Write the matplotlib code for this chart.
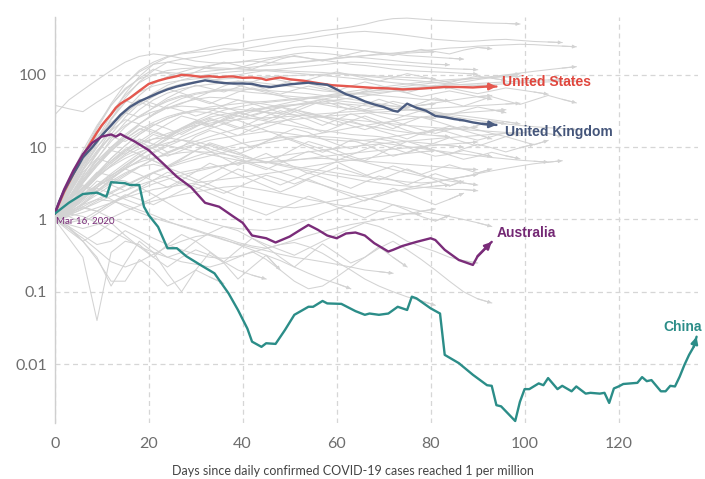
import numpy as np
import matplotlib
matplotlib.use("Agg")
import matplotlib.pyplot as plt
from matplotlib.ticker import FixedLocator, NullLocator

plt.rcParams['font.family'] = ['Lato', 'DejaVu Sans']

# ---------------- highlighted countries (7-day avg daily cases per million) ----------------
us_days = [0, 1, 2, 3, 4, 5, 6, 7, 8, 9, 10, 11, 12, 13, 14, 16, 18, 20, 22, 24, 26, 27, 29, 31,
           33, 35, 37, 38, 40, 42, 44, 45, 47, 48, 50, 53, 56, 59, 62, 65, 68, 71, 74, 77, 80,
           83, 86, 89, 92, 94]
us_vals = [1.2, 1.7, 2.4, 3.2, 4.3, 5.7, 7.6, 9.8, 12.5, 16, 20, 24, 28.5, 35, 40, 48, 60, 75,
           83, 90, 96, 100, 98, 94, 96, 93, 95, 95, 91, 92, 89, 85, 90, 92, 87, 83, 77, 72, 70,
           68, 66, 65, 63, 64, 66, 68, 68, 67, 69, 69]

uk_days = [0, 1, 2, 3, 4, 5, 6, 7, 8, 9, 10, 12, 14, 16, 18, 20, 22, 24, 26, 28, 30, 32, 34,
           36, 38, 40, 42, 44, 46, 48, 50, 52, 54, 56, 58, 60, 62, 64, 66, 68, 70, 72, 73, 75,
           77, 79, 81, 83, 85, 87, 89, 91, 94]
uk_vals = [1.2, 1.8, 2.5, 3.3, 4.3, 5.5, 7.2, 8.5, 10, 12, 14.5, 20, 28, 36, 43, 49, 56, 63,
           69, 74, 79, 84, 80, 77, 76, 76, 75, 70, 68, 71, 74, 76, 78, 75, 73, 63, 54, 49, 43,
           39, 36, 32, 31, 40, 35, 32, 27, 26, 24.5, 23.5, 22, 21, 20.3]

au_days = [0, 2, 4, 6, 8, 10, 12, 13, 14, 15, 17, 20, 23, 26, 29, 32, 35, 38, 40, 42, 45, 47,
           50, 52, 54, 56, 58, 60, 62, 64, 66, 68, 71, 72, 74, 77, 80, 81, 83, 86, 89, 90, 93]
au_vals = [1.2, 2.6, 4.8, 8, 11.5, 14, 15, 14, 15.2, 14, 12, 9.1, 6, 3.9, 2.8, 1.7, 1.5, 1.1,
           0.9, 0.6, 0.55, 0.48, 0.58, 0.7, 0.84, 0.72, 0.6, 0.55, 0.64, 0.66, 0.6, 0.47, 0.36,
           0.38, 0.43, 0.49, 0.55, 0.52, 0.38, 0.275, 0.235, 0.31, 0.49]

cn_days = [0, 3, 6, 9, 11, 12, 15, 16, 18, 19, 20, 22, 24, 26, 28, 31, 34, 37, 39, 41, 42, 44,
           45, 47, 49, 51, 54, 55, 57, 58, 61, 64, 66, 67, 69, 71, 73, 75, 76, 77, 80, 82, 83,
           86, 89, 92, 93, 94, 95, 98, 99, 100, 101, 103, 104, 105, 107, 108, 110, 111, 113,
           114, 116, 117, 118, 119, 120, 121, 124, 125, 126, 127, 129, 130, 131, 132, 133, 134,
           135, 136, 136.6]
cn_vals = [1.2, 1.7, 2.25, 2.35, 2.07, 3.28, 3.17, 3.0, 3.0, 1.5, 1.15, 0.79, 0.40, 0.40, 0.31,
           0.235, 0.18, 0.095, 0.056, 0.031, 0.0204, 0.0173, 0.0194, 0.019, 0.0296, 0.048,
           0.062, 0.062, 0.0746, 0.069, 0.068, 0.054, 0.048, 0.050, 0.048, 0.050, 0.062, 0.056,
           0.0855, 0.081, 0.059, 0.050, 0.0134, 0.0103, 0.0071, 0.0051, 0.0050, 0.0027, 0.0026,
           0.00163, 0.0030, 0.0045, 0.0045, 0.0054, 0.0051, 0.0064, 0.0045, 0.0050, 0.0042,
           0.0049, 0.0039, 0.0040, 0.0039, 0.0040, 0.0029, 0.0046, 0.0049, 0.0053, 0.0055,
           0.0066, 0.0058, 0.0060, 0.0042, 0.0042, 0.0050, 0.0049, 0.0067, 0.0097, 0.0134,
           0.0174, 0.0239]

# ---------------- other countries, sampled every GRAY_STEP days ----------------
GRAY_STEP = 3
gray_01 = [1.1, 2.6, 6, 13, 28, 55, 95, 140, 175, 200, 215, 240, 260, 275, 300, 320, 340, 355, 380, 410, 430, 460, 500, 560, 600, 610, 590, 570, 560, 545, 530, 520, 515, 505]
gray_02 = [1.0, 2.2, 5, 11, 24, 48, 80, 115, 150, 165, 175, 190, 210, 220, 240, 260, 285, 300, 320, 345, 370, 390, 400, 385, 370, 350, 330, 310, 300, 290, 295, 305, 310, 300, 290, 285, 280]
gray_03 = [1.2, 3.2, 8, 19, 40, 75, 115, 150, 180, 195, 205, 215, 230, 225, 215, 210, 220, 240, 250, 245, 235, 225, 215, 205, 195, 185, 180, 175, 170, 165]
gray_04 = [38, 34, 31, 42, 55, 75, 110, 140, 150, 140, 130, 122, 118, 125, 140, 160, 175, 180, 170, 160, 150, 140, 135, 128, 120, 115, 112, 110, 108, 105, 102]
gray_05 = [28, 45, 62, 85, 115, 150, 180, 195, 185, 170, 155, 148, 145, 150, 160, 170, 180, 195, 205, 200, 190, 180, 172, 165, 158, 150, 145, 140, 138]
gray_06 = [1.0, 1.9, 4, 8.5, 17, 32, 52, 75, 95, 110, 125, 135, 145, 150, 155, 150, 145, 148, 155, 162, 170, 178, 185, 195, 200, 210, 215, 225, 235, 240, 250, 255, 260, 265, 262, 255, 250, 245]
gray_07 = [1.1, 2.4, 5.5, 12, 25, 42, 58, 70, 78, 84, 88, 92, 95, 100, 108, 115, 120, 126, 132, 138, 145, 150, 148, 142, 138, 135, 130, 126, 122, 120, 118]
gray_08 = [1.0, 2.0, 4.2, 8, 15, 26, 40, 56, 72, 85, 95, 102, 108, 112, 115, 118, 115, 112, 110, 108, 104, 100, 96, 92, 88, 85, 82, 78, 75, 73, 72, 70]
gray_09 = [1.0, 1.7, 3.4, 6.8, 13, 22, 33, 45, 56, 64, 70, 74, 78, 82, 80, 76, 72, 68, 64, 60, 58, 56, 54, 52, 50, 48, 46, 45, 44]
gray_10 = [1.0, 1.8, 3.2, 5.5, 9, 14, 21, 29, 38, 47, 54, 58, 61, 60, 57, 55, 52, 50, 48, 46, 44, 42, 40, 38, 37, 36, 38, 41, 44, 47, 50, 52]
gray_11 = [1.0, 1.4, 2.4, 4.2, 7, 10.5, 15, 20, 25, 29, 33, 36, 38, 40, 42, 43, 45, 47, 49, 51, 53, 55, 58, 61, 63, 66, 68, 70, 72, 74, 76, 78, 80, 82, 84, 85, 86]
gray_12 = [1.1, 1.5, 2.4, 3.8, 5.6, 8, 10.5, 13, 15.5, 18, 20, 21.5, 23, 24, 25, 25.5, 26, 27, 28, 29, 30, 31, 32, 33, 34, 36, 38, 40]
gray_13 = [1.0, 2.2, 4.8, 9, 14, 20, 26, 31, 35, 37, 36, 33, 30, 27, 25, 23, 21, 19.5, 18, 17, 16, 15, 14.5, 14, 13, 12, 11.5, 11, 10.5, 10]
gray_14 = [0.9, 1.2, 1.7, 2.4, 3.2, 4.2, 5.4, 6.8, 8.2, 9.8, 11, 12.5, 13.5, 14.5, 15.5, 16.5, 16, 15, 14, 13, 12.5, 12, 12.5, 13, 14, 15, 16, 17, 18, 18.5, 19]
gray_15 = [1.0, 1.8, 2.8, 4, 5.4, 7, 8.6, 10, 11.5, 12.5, 12, 10.5, 9, 8, 7, 6.2, 5.6, 5.1, 4.7, 4.3, 4, 3.7, 3.4, 3.2, 3, 2.9, 2.8, 2.7, 2.6, 2.6, 2.5]
gray_16 = [1.0, 1.15, 1.4, 1.8, 2.3, 2.9, 3.6, 4.4, 5.2, 6, 6.8, 7.6, 8.5, 9.4, 10.4, 11.4, 12.4, 13.4, 14.5, 15.7, 17, 18.5, 20, 21.5, 23, 24.5, 26, 27.5, 29, 30, 31, 32, 33]
gray_17 = [1.0, 1.4, 2.1, 3.0, 4.1, 5.2, 6.2, 7.1, 7.8, 8.4, 8.7, 8.5, 8, 7.4, 6.8, 6.3, 5.8, 5.4, 5, 4.7, 4.4, 4.1, 3.9, 3.7, 3.5, 3.3, 3.2, 3.3, 3.6, 3.9, 4.3, 4.7, 5.1, 5.5, 5.9, 6.2, 6.5]
gray_18 = [1.0, 1.1, 1.25, 1.45, 1.7, 2.0, 2.3, 2.6, 2.8, 3.0, 3.2, 3.4, 3.6, 3.8, 4.0, 4.3, 4.6, 5.0, 5.4, 5.8, 6.2, 6.6, 7.0, 7.4, 7.8, 8.2, 8.6, 9]
gray_19 = [1.0, 0.85, 0.75, 0.85, 1.05, 1.3, 1.55, 1.8, 2.0, 2.2, 2.4, 2.6, 2.8, 2.9, 2.7, 2.5, 2.3, 2.1, 1.9, 1.75, 1.6, 1.5, 1.4, 1.3, 1.25, 1.2, 1.2]
gray_20 = [1.0, 1.3, 1.6, 1.9, 1.8, 1.6, 1.35, 1.15, 0.95, 0.8, 0.7, 0.6, 0.52, 0.46, 0.41, 0.37, 0.33, 0.3, 0.28, 0.26, 0.24, 0.22, 0.2, 0.19, 0.18]
gray_21 = [1.0, 0.75, 0.55, 0.38, 0.26, 0.22, 0.26, 0.33, 0.42, 0.5, 0.58, 0.62, 0.56, 0.48, 0.43, 0.4, 0.45, 0.52, 0.6, 0.68, 0.76, 0.85, 0.92, 1.0, 1.1, 1.2, 1.3, 1.4]
gray_22 = [1.0, 0.55, 0.3, 0.04, 0.35, 0.5, 0.45, 0.3, 0.22, 0.3, 0.38, 0.32, 0.26, 0.2, 0.17, 0.15]
gray_23 = [1.0, 0.75, 0.5, 0.28, 0.14, 0.14, 0.28, 0.2, 0.12, 0.15, 0.2, 0.16, 0.13]
gray_24 = [1.0, 1.4, 2.0, 2.8, 3.8, 5, 6.6, 8.6, 11, 14, 17, 20, 23.5, 27, 31, 35, 39, 43, 47, 51, 55, 59, 63, 67, 71, 75, 79, 83, 86, 88, 90, 92, 94, 95]
gray_25 = [1.1, 2.3, 5, 10, 18, 29, 42, 55, 66, 75, 81, 85, 88, 90, 92, 94, 96, 98, 100, 102, 104, 102, 99, 96, 94, 92, 90, 88]
gray_26 = [1.0, 2.8, 7.5, 18, 38, 65, 88, 102, 108, 104, 96, 88, 80, 72, 64, 57, 51, 46, 42, 39, 36, 34, 32, 30, 28.5, 27, 26, 25]
gray_27 = [1.0, 1.7, 3.2, 6, 10, 15, 21, 28, 35, 41, 46, 49, 48, 45, 42, 39, 36, 33, 30, 27, 24.5, 22, 20, 18.5, 17, 16, 15, 14.5, 14]
gray_28 = [1.0, 1.15, 1.6, 2.4, 3.6, 5.2, 7.4, 10, 13.5, 18, 22, 26, 28.5, 30.5, 32, 34, 36, 38, 40, 42, 45, 48, 51, 55, 59, 63, 67, 71, 75, 80, 86, 92, 98, 104]
gray_29 = [1.0, 1.5, 2.4, 3.8, 5.6, 7.6, 9.5, 10.8, 10.5, 9.6, 8.7, 7.9, 7.2, 6.6, 6.2, 6.1, 6.3, 6.6, 7.0, 7.4, 7.8, 8.2, 8.6, 9, 9.4, 9.8, 10.2, 10.6, 11, 11.4, 11.8]
gray_30 = [1.0, 1.3, 1.8, 2.5, 3.4, 4.4, 5.4, 5.8, 5.2, 4.4, 3.6, 3.0, 2.5, 2.1, 1.85, 1.65, 1.5, 1.45, 1.55, 1.7, 1.85, 2.0, 2.15, 2.3, 2.45, 2.6, 2.75, 2.9, 3.0]
gray_31 = [1.0, 0.9, 1.0, 1.3, 1.7, 2.1, 2.6, 3.1, 3.6, 4.1, 4.6, 5.1, 5.6, 6.1, 6.6, 7.1, 7.6, 8.1, 8.6, 9.1, 9.6, 10.1, 10.6, 11.1, 11.6, 12.1, 12.6, 13.1, 13.6, 14, 14.5, 15, 15.5, 16]
gray_32 = [1.0, 1.25, 1.45, 1.3, 1.05, 0.85, 0.68, 0.55, 0.45, 0.38, 0.33, 0.3, 0.29, 0.31, 0.35, 0.4, 0.45, 0.48, 0.42, 0.34, 0.26, 0.2, 0.15, 0.12, 0.1, 0.085, 0.075, 0.065]
gray_33 = [1.0, 1.8, 2.8, 2.4, 1.9, 1.5, 1.25, 1.05, 0.92, 0.82, 0.72, 0.62, 0.53, 0.45, 0.38, 0.32, 0.27, 0.22, 0.18, 0.15, 0.13, 0.11]
gray_34 = [1.0, 1.4, 2.0, 2.8, 3.8, 5.0, 6.5, 8.3, 10.3, 12.5, 15, 18, 21, 24.5, 28, 31.5, 35, 38.5, 42, 46, 50, 54, 58, 62, 66, 70, 74, 78, 82, 86, 90, 95, 100, 106, 112, 118, 124, 130]
gray_35 = [1.0, 1.8, 3.4, 5.8, 9, 13, 17.5, 22, 26.5, 30, 32.5, 34, 34.5, 33.5, 32, 30.5, 29, 28, 27, 26, 25, 24, 23, 22, 21, 20, 19.3, 18.6, 18, 17.5, 17, 16.5, 16, 15.5]
gray_36 = [1.0, 1.15, 1.4, 1.7, 2.1, 2.5, 3.0, 3.5, 4.0, 4.5, 4.9, 5.3, 5.6, 5.9, 6.1, 6.3, 6.5, 6.7, 6.9, 7.0, 6.8, 6.6, 6.4, 6.2, 6.0, 5.8, 5.6, 5.4, 5.2, 5.0, 4.9]
gray_37 = [1.0, 1.25, 1.65, 2.2, 3.0, 4.0, 5.3, 6.8, 8.5, 10.3, 12.1, 14, 16, 18, 19.8, 21.5, 23, 24.2, 25.4, 26.5, 27.5, 28.5, 29.5, 30.5, 31.5, 32.5, 33.5, 34.5, 35.5, 36.5, 37.5, 38.5, 39.5, 40.5]
gray_38 = [1.0, 1.6, 2.7, 4.4, 7, 10.5, 15, 20, 25, 29, 31, 30, 27, 23.5, 20, 17, 14.5, 12.5, 10.8, 9.3, 8, 7, 6.2, 5.5, 4.9, 4.4, 4.0, 3.7, 3.4, 3.2, 3.0]
gray_39 = [1.0, 2.4, 5.6, 12, 24, 42, 62, 80, 93, 102, 108, 113, 118, 123, 128, 134, 140, 146, 152, 160, 168, 176, 184, 190, 195, 200, 205, 210]
gray_40 = [1.0, 1.35, 2.0, 3.0, 4.3, 6, 8.2, 11, 14.5, 18.5, 23, 28, 32.5, 36, 39, 41.5, 43.5, 45.5, 47.5, 49.5, 51.5, 53.5, 55.5, 57.5, 59.5, 61.5, 63.5, 65.5, 67.5, 69.5, 71.5, 73.5, 75.5, 77.5, 79, 80, 81, 82]
gray_41 = [1.0, 0.8, 0.6, 0.45, 0.5, 0.7, 0.55, 0.4, 0.3, 0.35, 0.5, 0.65, 0.8, 0.7, 0.55, 0.45, 0.38, 0.32, 0.4, 0.5, 0.62, 0.75, 0.9, 0.8, 0.65, 0.5, 0.42, 0.36, 0.3, 0.27, 0.25]
gray_42 = [1.0, 1.2, 1.1, 0.9, 0.7, 0.55, 0.42, 0.35, 0.3, 0.26, 0.24, 0.22, 0.25, 0.3, 0.36, 0.28, 0.2, 0.14, 0.11, 0.12, 0.16, 0.22, 0.3, 0.4, 0.5, 0.38, 0.28, 0.2, 0.14, 0.1, 0.08, 0.07]
gray_43 = [1.0, 1.5, 2.2, 3.0, 3.6, 3.4, 2.8, 2.2, 1.7, 1.3, 1.05, 0.9, 0.8, 0.75, 0.72, 0.7, 0.75, 0.85, 1.0, 1.2, 1.4, 1.6, 1.85, 2.1, 2.4, 2.7, 3.0, 3.3, 3.6, 3.9, 4.2]
gray_44 = [1.0, 1.6, 2.6, 4.2, 6.4, 9, 11.5, 13, 13.5, 12.5, 11, 9.5, 8.2, 7, 6, 5.2, 4.5, 3.9, 3.4, 3.0, 2.6, 2.3, 2.0, 1.8, 1.6, 1.45, 1.3, 1.2, 1.1, 1.0, 0.9, 0.8]
gray_45 = [1.0, 2.0, 3.8, 7, 12, 19, 27, 35, 43, 50, 56, 60, 63, 64, 63, 61, 59, 57, 55, 52, 49, 46, 43, 40, 37, 34, 31, 29, 27, 25, 23.5, 22, 21, 20, 19.2, 18.6, 18, 17.5]
gray_46 = [1.0, 1.3, 1.9, 2.8, 4.0, 5.6, 7.6, 10, 12.8, 16, 19.5, 23, 26.5, 30, 33, 35.5, 37.5, 39, 40, 40.5, 40, 39, 37.5, 36, 34.5, 33, 31.5, 30, 28.5, 27, 25.5, 24, 22.5, 21]
gray_47 = [1.0, 1.2, 1.5, 1.9, 2.4, 3.0, 3.7, 4.5, 5.4, 6.4, 7.5, 8.6, 9.8, 11, 12, 12.8, 13.5, 14, 14.2, 14, 13.6, 13, 12.3, 11.6, 10.9, 10.2, 9.6, 9, 8.5, 8, 7.6, 7.2, 6.9, 6.6, 6.4, 6.2]
gray_48 = [1.0, 2.6, 6.5, 15, 30, 52, 78, 100, 115, 122, 125, 126, 124, 121, 118, 114, 110, 106, 102, 98, 94, 90, 86, 82, 78, 75, 72, 69, 66]
gray_49 = [1.0, 1.9, 3.5, 6, 9, 8, 11, 15, 13, 18, 22, 19, 25, 30, 27, 24, 28, 33, 29, 26, 30, 35, 31, 27, 24, 28, 32, 29, 26, 23]
gray_50 = [1.0, 2.2, 4.5, 7, 6, 9, 13, 11, 8.5, 10, 14, 17, 15, 12, 10, 12, 15, 18, 16, 13, 11, 9.5, 11, 13, 12, 10, 8.5, 7.5, 8, 9, 8.2, 7.4]
gray_51 = [1.0, 1.6, 2.8, 4.5, 4, 5.5, 7.5, 6.5, 5.2, 6.8, 9, 11, 9.5, 8, 9.5, 12, 14, 12, 10, 8.5, 10, 12.5, 11, 9, 7.5, 8.5, 10, 9, 7.8, 6.8, 7.5, 8.5, 7.6, 6.9]
gray_52 = [1.0, 2.5, 5.5, 10, 17, 24, 21, 28, 36, 32, 27, 31, 38, 45, 40, 35, 30, 34, 40, 46, 42, 37, 33, 38, 43, 39, 35, 31, 28, 32, 36, 33, 30]
gray_53 = [1.0, 1.4, 2.2, 3.4, 3.0, 2.5, 3.3, 4.4, 3.8, 3.1, 2.6, 3.2, 4.0, 5.0, 4.3, 3.6, 3.0, 3.6, 4.4, 3.8, 3.2, 2.7, 3.3, 4.0, 3.5, 3.0, 3.6, 4.3, 3.7, 3.2]
gray_54 = [1.0, 3.0, 7, 14, 22, 30, 26, 35, 45, 52, 46, 40, 48, 58, 66, 60, 54, 62, 70, 64, 58, 52, 60, 68, 62, 56, 50, 55, 60, 55, 50, 46]
gray_55 = [1.0, 1.8, 3.0, 2.5, 3.6, 5.0, 4.2, 3.4, 2.8, 3.5, 4.6, 6.0, 5.1, 4.2, 3.5, 2.9, 2.4, 2.9, 3.6, 3.0, 2.5, 2.1, 1.8, 2.2, 2.7, 2.3, 1.9, 1.6, 1.9, 2.3]
gray_56 = [1.0, 2.0, 3.6, 6, 9.5, 14, 20, 17, 14, 18, 23, 20, 17, 14.5, 18, 22, 26, 22, 19, 16, 19, 23, 20, 17, 15, 13, 15.5, 18, 16, 14, 12.5, 14, 16, 14.5]
gray_57 = [1.0, 1.3, 1.9, 2.7, 2.3, 1.9, 1.6, 2.0, 2.6, 3.3, 2.8, 2.3, 1.9, 1.6, 1.35, 1.15, 1.4, 1.7, 2.1, 1.8, 1.5, 1.25, 1.05, 1.3, 1.6, 1.35, 1.1, 0.95, 1.15]
gray_58 = [1.0, 0.7, 0.5, 0.65, 0.9, 0.6, 0.42, 0.3, 0.45, 0.62, 0.5, 0.36, 0.26, 0.38, 0.55, 0.42, 0.3, 0.22, 0.32, 0.46, 0.34, 0.25, 0.3, 0.42, 0.3, 0.22]
gray_59 = [1.0, 0.8, 0.5, 0.3, 0.12, 0.25, 0.5, 0.35, 0.18, 0.1, 0.2, 0.35, 0.25, 0.15, 0.22, 0.32, 0.2]
gray_60 = [1.0, 2.8, 6.5, 12, 20, 30, 42, 36, 48, 60, 72, 65, 58, 68, 80, 92, 84, 76, 86, 98, 110, 100, 90, 82, 92, 104, 95, 86, 78, 88, 96, 90, 84]
gray_61 = [1.0, 3.5, 9, 20, 38, 62, 90, 120, 105, 92, 110, 132, 150, 135, 120, 140, 165, 185, 170, 155, 175, 195, 215, 200, 185, 205, 225, 210, 195, 220, 240, 230]
gray_62 = [1.0, 1.5, 2.4, 4, 6.5, 9.5, 8, 6.5, 5.5, 7, 9, 11.5, 10, 8.5, 7, 6, 7.5, 9.5, 12, 10.5, 9, 7.5, 6.5, 8, 10, 12, 10.5, 9, 8, 9.5, 11, 9.8, 8.6, 9.8, 11]
gray_63 = [1.0, 2.4, 4.8, 8.5, 14, 12, 16, 21, 18, 15, 19, 24, 21, 18, 22, 27, 32, 28, 24, 20, 24, 29, 25, 21, 18, 22, 26, 23, 20, 17.5, 20, 23, 21]
gray_64 = [1.0, 1.2, 1.5, 1.3, 1.7, 2.2, 1.9, 1.6, 2.0, 2.5, 3.1, 2.7, 2.3, 2.8, 3.4, 4.1, 3.6, 3.1, 3.7, 4.4, 5.2, 4.6, 4.0, 4.7, 5.5, 4.8, 4.2, 4.9, 5.7, 5.0, 4.4, 5.0]
gray_65 = [1.0, 3.2, 8, 16, 28, 44, 38, 50, 64, 56, 48, 58, 70, 82, 72, 63, 74, 86, 76, 68, 60, 70, 80, 72, 64, 57, 64, 72, 66, 60, 55, 60, 66, 62, 58, 54]
gray_66 = [1.0, 1.8, 3.2, 5.5, 8.8, 13, 18, 16, 14, 17, 21, 25, 22, 19, 16.5, 19, 22, 26, 30, 26, 23, 20, 17.5, 20, 23, 20, 17.5, 15.5, 17.5, 19.5, 17.5, 15.5, 14, 15.5, 17, 15.5, 14]
gray_67 = [1.0, 2.0, 3.8, 6.5, 10, 14, 12, 9.5, 7.5, 9, 11, 8.8, 7, 5.6, 6.8, 8.2, 6.6, 5.3, 4.3, 5.2, 6.3, 5.1, 4.2, 3.5, 4.2, 5.0, 4.2, 3.5, 2.9, 3.4]
gray_68 = [1.0, 1.1, 0.9, 1.2, 1.6, 2.1, 2.7, 3.5, 4.5, 3.9, 3.3, 4.2, 5.3, 6.6, 5.7, 4.9, 6.0, 7.3, 8.8, 7.6, 6.5, 7.8, 9.3, 11, 9.6, 8.3, 9.8, 11.5, 13.5, 11.8, 10.3, 12, 14, 12.3, 10.8, 12.4]
gray_69 = [1.0, 2.6, 6, 12, 21, 33, 46, 40, 34, 40, 48, 42, 36, 31, 27, 31, 36, 31, 27, 23, 20, 23, 27, 23, 20, 17, 15, 17, 19.5, 17, 15, 13]
gray_70 = [1.0, 1.5, 2.5, 4, 6, 8.5, 12, 16, 21, 27, 24, 20, 24, 29, 35, 30, 26, 31, 37, 44, 38, 33, 39, 46, 40, 35, 41, 48, 42, 37, 43, 50, 44, 39, 45, 52, 46, 41]

other_countries = [gray_01, gray_02, gray_03, gray_04, gray_05, gray_06, gray_07, gray_08,
                   gray_09, gray_10, gray_11, gray_12, gray_13, gray_14, gray_15, gray_16,
                   gray_17, gray_18, gray_19, gray_20, gray_21, gray_22, gray_23, gray_24,
                   gray_25, gray_26, gray_27, gray_28, gray_29, gray_30, gray_31, gray_32,
                   gray_33, gray_34, gray_35, gray_36, gray_37, gray_38, gray_39, gray_40,
                   gray_41, gray_42, gray_43, gray_44, gray_45, gray_46, gray_47, gray_48,
                   gray_49, gray_50, gray_51, gray_52, gray_53, gray_54, gray_55, gray_56,
                   gray_57, gray_58, gray_59, gray_60, gray_61, gray_62, gray_63, gray_64,
                   gray_65, gray_66, gray_67, gray_68, gray_69, gray_70]

y_ticks = [0.01, 0.1, 1, 10, 100]
y_tick_labels = ['0.01', '0.1', '1', '10', '100']
x_ticks = [0, 20, 40, 60, 80, 100, 120]
x_tick_labels = ['0', '20', '40', '60', '80', '100', '120']

# ---------------- figure ----------------
W, H = 705, 479
fig = plt.figure(figsize=(W / 100, H / 100), dpi=100)
ax = fig.add_axes([54.7 / W, 1 - 423 / H, (698 - 54.7) / W, (423 - 17) / H])
ax.set_yscale('log')
ax.set_xlim(0, 136.9)
ax.set_ylim(0.00153, 632)


def arrow_end(days, vals, color, lw, scale, z):
    ax.annotate('', xy=(days[-1], vals[-1]), xytext=(days[-2], vals[-2]),
                arrowprops=dict(arrowstyle='-|>', color=color, lw=lw,
                                mutation_scale=scale, shrinkA=0, shrinkB=0),
                zorder=z, annotation_clip=False)


gray = '#d3d3d3'
for vals in other_countries:
    d = np.arange(len(vals)) * GRAY_STEP
    ax.plot(d, vals, color=gray, lw=0.75, zorder=2, solid_joinstyle='round')
    arrow_end(d, vals, gray, 0.75, 5, 2)

highlight = [
    (us_days, us_vals, '#e5584f'),
    (uk_days, uk_vals, '#4b5c80'),
    (au_days, au_vals, '#7a2c79'),
    (cn_days, cn_vals, '#2b8d88'),
]
for days, vals, color in highlight:
    ax.plot(days, vals, color=color, lw=1.7, zorder=5,
            solid_joinstyle='round', solid_capstyle='round')
    arrow_end(days, vals, color, 1.7, 10, 6)

label_font = ['Liberation Sans', 'DejaVu Sans']
label_size = 10
ax.text(95.2, 79.8, 'United States', color='#e0463d', fontsize=label_size, fontweight='bold',
        family=label_font, ha='left', va='center', zorder=7)
ax.text(95.8, 16.2, 'United Kingdom', color='#44557a', fontsize=label_size, fontweight='bold',
        family=label_font, ha='left', va='center', zorder=7)
ax.text(94.1, 0.65, 'Australia', color='#742874', fontsize=label_size, fontweight='bold',
        family=label_font, ha='left', va='center', zorder=7)
ax.text(129.6, 0.0326, 'China', color='#2b8d88', fontsize=label_size, fontweight='bold',
        family=label_font, ha='left', va='center', zorder=7, clip_on=False)
ax.text(0.2, 0.96, 'Mar 16, 2020', color='#7a2c79', fontsize=7, ha='left', va='center',
        zorder=7)

# axes styling
ax.yaxis.set_major_locator(FixedLocator(y_ticks))
ax.yaxis.set_minor_locator(NullLocator())
ax.set_yticklabels(y_tick_labels)
ax.xaxis.set_major_locator(FixedLocator(x_ticks))
ax.set_xticklabels(x_tick_labels)
ax.tick_params(axis='both', length=0, labelsize=11.5, labelcolor='#6e6e6e')
ax.tick_params(axis='y', pad=5.5)
ax.tick_params(axis='x', pad=10)

ax.set_axisbelow(True)
ax.grid(True, color='#d6d6d6', lw=0.9, ls=(0, (4, 3)))
for side in ('top', 'right', 'bottom'):
    ax.spines[side].set_visible(False)
ax.spines['left'].set_color('#cfcfcf')
ax.spines['left'].set_linewidth(1.0)

fig.text(0.5, 1 - 471 / H, 'Days since daily confirmed COVID-19 cases reached 1 per million',
         ha='center', va='center', fontsize=9, color='#444444')

fig.savefig('out.png', dpi=100)
